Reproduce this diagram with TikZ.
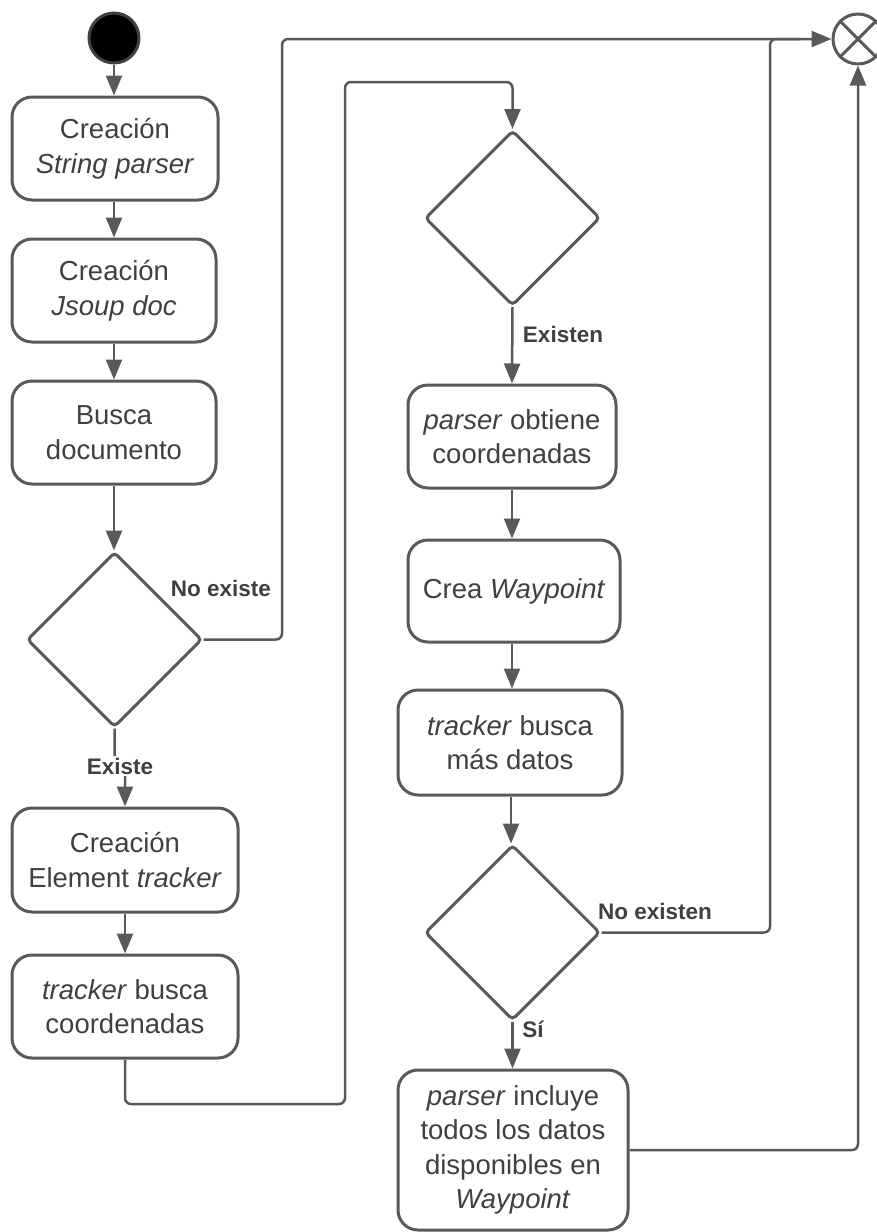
\documentclass[tikz,border=0pt]{standalone}
\usepackage{fontspec}
\setmainfont{Liberation Sans}
\usetikzlibrary{shapes.geometric,arrows.meta}
\definecolor{linec}{HTML}{595959}
\definecolor{textc}{HTML}{404040}
\begin{document}
\begin{tikzpicture}[x=1pt,y=-1pt,
  act/.style={draw=linec, line width=3pt, rounded corners=20pt, fill=white,
    align=center, text=textc, font=\fontsize{27.5}{34.5}\selectfont, inner sep=0pt},
  dec/.style={draw=linec, line width=3pt, diamond, minimum width=175pt,
    minimum height=175pt, rounded corners=4pt, inner sep=0pt, fill=white},
  conn/.style={draw=linec, line width=2.5pt, rounded corners=6pt},
  flow/.style={conn, -{Triangle[length=20pt,width=16pt]}},
  lab/.style={text=textc, font=\fontsize{22.5}{26}\selectfont\bfseries, inner sep=2pt}
]
\useasboundingbox (0,0) rectangle (877,1232);

% start and end markers
\node[circle, fill=black, draw=textc, line width=3pt, minimum size=50pt, inner sep=0pt] (start) at (114,38) {};
\node[circle, draw=linec, line width=3pt, minimum size=50pt, inner sep=0pt, fill=white] (end) at (858,39) {};
\draw[linec, line width=3pt] (end.north west) -- (end.south east) (end.north east) -- (end.south west);

% left column
\node[act, minimum width=206pt, minimum height=103pt] (b1) at (115,148.5) {Creación\\\textit{String parser}};
\node[act, minimum width=204pt, minimum height=103pt] (b2) at (114,290.5) {Creación\\\textit{Jsoup doc}};
\node[act, minimum width=204pt, minimum height=103pt] (b3) at (114,432.5) {Busca\\documento};
\node[dec] (d1) at (114.5,639.5) {};
\node[act, minimum width=226pt, minimum height=104pt] (b4) at (125,860) {Creación\\Element \textit{tracker}};
\node[act, minimum width=226pt, minimum height=103pt] (b5) at (125,1006.5) {\textit{tracker} busca\\coordenadas};

% right column
\node[dec] (d2) at (512.5,218) {};
\node[act, minimum width=208pt, minimum height=103pt] (b6) at (512,436.5) {\textit{parser} obtiene\\coordenadas};
\node[act, minimum width=212pt, minimum height=102pt] (b7) at (514,591) {Crea \textit{Waypoint}};
\node[act, minimum width=224pt, minimum height=105pt] (b8) at (510,742.5) {\textit{tracker} busca\\más datos};
\node[dec] (d3) at (512.5,932.5) {};
\node[act, minimum width=230pt, minimum height=160pt] (b9) at (513,1150) {\textit{parser} incluye\\todos los datos\\disponibles en\\\textit{Waypoint}};

% connectors, left column
\draw[flow] (start.south) -- (start.south |- b1.north);
\draw[flow] (b1.south -| 114,0) -- (b2.north);
\draw[flow] (b2.south) -- (b3.north);
\draw[flow] (b3.south) -- (d1.north -| b3.south);
\draw[flow] (d1.south) -- (114.5,766) -| (b4.north);
\node[lab, fill=white] (lexiste) at (120,766) {Existe};
\draw[flow] (b4.south) -- (b5.north);
\draw[flow] (d1.east) -| (282,39) -- (end.west);
\node[lab] (lnoexiste) at (221,588) {No existe};
\draw[flow] (b5.south) |- (345,1104) |- (512.5,82) -- (d2.north);

% connectors, right column
\draw[flow] (d2.south) -- (b6.north);
\node[lab] (lexisten) at (563,334) {Existen};
\draw[flow] (b6.south) -- (b7.north -| b6.south);
\draw[flow] (b7.south -| 512,0) -- (b8.north -| 512,0);
\draw[flow] (b8.south -| 511,0) -- (d3.north -| 511,0);
\draw[flow] (d3.south) -- (b9.north -| d3.south);
\node[lab] (lsi) at (533,1029) {Sí};
\draw[conn] (d3.east) -| (770,39) -- (800,39);
\node[lab] (lnoexisten) at (655,911) {No existen};
\draw[flow] (b9.east) -| (end.south);
\end{tikzpicture}
\end{document}
